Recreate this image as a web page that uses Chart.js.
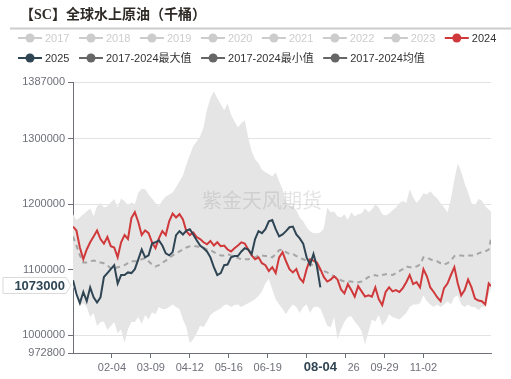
<!DOCTYPE html>
<html><head><meta charset="utf-8">
<script src="https://cdn.jsdelivr.net/npm/chart.js@4/dist/chart.umd.min.js"></script>
<style>html,body{margin:0;padding:0;background:#fff;}canvas{display:block;}</style>
</head><body>
<canvas id="c" width="511" height="379"></canvas>
<script>
// ---- DATA ----
// sample days (day-of-year index, leap-year calendar, every 3rd day + last day)
const sampleDays = Array.from({length: 122}, (_, k) => 3 * k).concat([365]);
const xTickLabels = ['02-04','03-09','04-12','05-16','06-19','07-23','08-26','09-29','11-02'];
const yTicks = [972800, 1000000, 1100000, 1200000, 1300000, 1387000];
const legendNames = ['2017','2018','2019','2020','2021','2022','2023','2024','2025','2017-2024最大值','2017-2024最小值','2017-2024均值'];
const legendColors = ['#cccccc','#cccccc','#cccccc','#cccccc','#cccccc','#cccccc','#cccccc','#d0393b','#2f4554','#666666','#666666','#666666'];
const legendActive = [false,false,false,false,false,false,false,true,true,true,true,true];

const max1724 = [
 1185000,1176000,1180000,1185000,1189000,1194000,1182000,1197000,1202000,1195000,
 1197000,1203000,1208000,1195000,1209000,1205000,1198000,1203000,1200000,1218000,
 1224000,1223000,1215000,1209000,1202000,1197000,1206000,1212000,1215000,1218000,
 1226000,1235000,1244000,1261000,1275000,1289000,1296000,1304000,1318000,1345000,
 1362000,1373000,1362000,1353000,1344000,1354000,1337000,1327000,1318000,1324000,
 1328000,1302000,1281000,1269000,1263000,1253000,1249000,1246000,1243000,1249000,
 1235000,1223000,1203000,1197000,1198000,1191000,1180000,1174000,1165000,1159000,
 1156000,1156000,1157000,1163000,1195000,1188000,1189000,1182000,1180000,1185000,
 1176000,1188000,1182000,1185000,1186000,1194000,1188000,1192000,1200000,1195000,
 1185000,1183000,1186000,1191000,1195000,1202000,1205000,1202000,1223000,1211000,
 1202000,1208000,1217000,1215000,1220000,1214000,1209000,1202000,1195000,1188000,
 1208000,1238000,1263000,1250000,1232000,1218000,1202000,1198000,1208000,1206000,
 1197000,1192000,1189000];
const min1724 = [
 1073000,1066000,1046000,1049000,1043000,1028000,1034000,1014000,1020000,1021000,
 1008000,1014000,1020000,1003000,1009000,988000,1009000,1020000,1020000,1028000,
 1017000,1031000,1024000,1035000,1032000,1043000,1040000,1040000,1043000,1047000,
 1043000,1040000,1024000,1012000,988000,994000,1003000,1015000,1012000,1021000,
 1031000,1035000,1038000,1041000,1046000,1047000,1043000,1046000,1047000,1043000,
 1046000,1049000,1052000,1055000,1060000,1067000,1079000,1086000,1070000,1055000,
 1047000,1040000,1032000,1041000,1047000,1043000,1034000,1043000,1047000,1034000,
 1043000,1044000,1041000,1028000,1015000,1012000,1028000,994000,1009000,1020000,
 1028000,1029000,1021000,1015000,1006000,986000,1005000,1024000,1021000,1031000,
 1015000,1021000,1032000,1028000,1026000,1024000,1029000,1034000,1043000,1047000,
 1047000,1049000,1061000,1052000,1047000,1043000,1047000,1043000,1047000,1052000,
 1047000,1058000,1061000,1047000,1043000,1047000,1043000,1043000,1038000,1043000,
 1043000,1061000,1072000];
const avg1724 = [
 1151000,1137000,1122000,1111000,1111000,1113000,1114000,1113000,1111000,1110000,
 1107000,1102000,1101000,1104000,1105000,1107000,1110000,1113000,1113000,1114000,
 1116000,1118000,1113000,1108000,1105000,1107000,1111000,1114000,1118000,1122000,
 1125000,1128000,1131000,1134000,1136000,1136000,1136000,1134000,1134000,1131000,
 1130000,1127000,1124000,1122000,1122000,1124000,1122000,1121000,1118000,1116000,
 1116000,1116000,1118000,1119000,1122000,1122000,1121000,1121000,1119000,1124000,
 1130000,1131000,1127000,1124000,1124000,1121000,1118000,1116000,1114000,1108000,
 1107000,1104000,1099000,1098000,1096000,1093000,1090000,1087000,1084000,1082000,
 1082000,1082000,1081000,1081000,1082000,1085000,1089000,1090000,1092000,1090000,
 1092000,1093000,1093000,1092000,1095000,1098000,1101000,1105000,1104000,1104000,
 1105000,1108000,1119000,1119000,1116000,1114000,1113000,1110000,1108000,1110000,
 1114000,1121000,1122000,1122000,1121000,1122000,1122000,1122000,1125000,1127000,
 1128000,1131000,1147000];
const y2024 = [
 1166000,1160000,1134000,1116000,1131000,1142000,1151000,1160000,1147000,1140000,
 1150000,1136000,1134000,1119000,1142000,1153000,1147000,1179000,1188000,1173000,
 1153000,1160000,1156000,1142000,1133000,1148000,1159000,1153000,1174000,1186000,
 1180000,1185000,1177000,1159000,1153000,1157000,1150000,1147000,1142000,1139000,
 1144000,1137000,1142000,1136000,1137000,1131000,1128000,1133000,1137000,1142000,
 1140000,1131000,1122000,1116000,1119000,1110000,1107000,1098000,1104000,1095000,
 1119000,1127000,1113000,1101000,1096000,1101000,1087000,1081000,1101000,1116000,
 1114000,1111000,1101000,1089000,1082000,1085000,1090000,1085000,1070000,1064000,
 1078000,1069000,1059000,1075000,1067000,1059000,1061000,1059000,1073000,1055000,
 1046000,1066000,1073000,1067000,1069000,1066000,1072000,1081000,1092000,1078000,
 1081000,1073000,1101000,1090000,1073000,1066000,1058000,1052000,1072000,1079000,
 1092000,1104000,1079000,1061000,1069000,1085000,1073000,1056000,1053000,1052000,
 1047000,1079000,1075000];
const y2025 = [
 1084000,1063000,1049000,1066000,1052000,1073000,1058000,1050000,1058000,1089000,
 1095000,1101000,1107000,1079000,1092000,1092000,1096000,1095000,1101000,1116000,
 1131000,1119000,1122000,1140000,1142000,1145000,1137000,1125000,1122000,1127000,
 1153000,1159000,1154000,1160000,1162000,1154000,1145000,1137000,1133000,1128000,
 1119000,1104000,1092000,1095000,1107000,1108000,1119000,1121000,1121000,1128000,
 1133000,1131000,1124000,1147000,1159000,1156000,1162000,1174000,1176000,1162000,
 1151000,1154000,1159000,1165000,1166000,1154000,1148000,1140000,1119000,1108000,
 1124000,1105000,1073000];

// ---- helpers ----
const monthLens = [31,29,31,30,31,30,31,31,30,31,30,31];
function dayLabel(d) {
  let m = 0; d = Math.round(d);
  while (m < 11 && d >= monthLens[m]) { d -= monthLens[m]; m++; }
  return String(m + 1).padStart(2, '0') + '-' + String(d + 1).padStart(2, '0');
}
function labelDay(lbl) {
  const [m, d] = lbl.split('-').map(Number);
  let s = 0; for (let i = 0; i < m - 1; i++) s += monthLens[i];
  return s + d - 1;
}
const xTickDays = xTickLabels.map(labelDay);
const toPts = vals => vals.map((v, i) => ({x: sampleDays[i], y: v}));
const lastIdx2025 = y2025.length - 1;
const pointerDay = sampleDays[lastIdx2025];
const pointerVal = y2025[lastIdx2025];

const FONT = '"Liberation Sans", "Noto Sans CJK SC", sans-serif';
const CJK = '"Noto Sans CJK SC", "Liberation Sans", sans-serif';
const TITLEFONT = '"Liberation Serif", "Noto Sans CJK SC", serif';
Chart.defaults.font.family = FONT;
Chart.defaults.font.size = 11;
Chart.defaults.color = '#6E7079';

const decor = {
  id: 'decor',
  beforeDatasetsDraw(chart) {
    const ctx = chart.ctx;
    ctx.save();
    ctx.font = '20px ' + CJK;
    ctx.fillStyle = 'rgba(120,120,120,0.2)';
    ctx.textAlign = 'center';
    ctx.textBaseline = 'middle';
    ctx.fillText('紫金天风期货', 262, 200);
    ctx.restore();
  },
  afterDraw(chart) {
    const ctx = chart.ctx;
    ctx.save();
    // title
    ctx.font = 'bold 14px ' + TITLEFONT;
    ctx.fillStyle = '#2e2a26';
    ctx.textAlign = 'left';
    ctx.textBaseline = 'middle';
    ctx.fillText('【SC】全球水上原油（千桶）', 20, 15);
    ctx.strokeStyle = '#cccccc';
    ctx.lineWidth = 2;
    ctx.beginPath(); ctx.moveTo(10, 28.5); ctx.lineTo(511, 28.5); ctx.stroke();
    // legend
    ctx.font = '11px ' + FONT;
    let x = 18, y = 38;
    legendNames.forEach((name, i) => {
      const tw = ctx.measureText(name).width;
      const w = 27 + tw;
      if (x + w > 505) { x = 18; y += 20; }
      const c = legendColors[i];
      ctx.strokeStyle = c; ctx.lineWidth = 2;
      ctx.beginPath(); ctx.moveTo(x, y); ctx.lineTo(x + 24, y); ctx.stroke();
      ctx.fillStyle = c;
      ctx.beginPath(); ctx.arc(x + 12, y, 4.5, 0, Math.PI * 2); ctx.fill();
      ctx.fillStyle = legendActive[i] ? '#333' : '#cccccc';
      ctx.fillText(name, x + 27, y + 0.5);
      x += w + 9.5;
    });
    // x axis pointer label
    const xs = chart.scales.x, ys = chart.scales.y;
    const px = xs.getPixelForValue(pointerDay);
    ctx.fillStyle = '#fff';
    ctx.fillRect(px - 28, 358, 56, 20);
    ctx.font = 'bold 13px ' + FONT;
    ctx.fillStyle = '#2f4554';
    ctx.textAlign = 'center';
    ctx.fillText(dayLabel(pointerDay), px, 367);
    // y axis pointer label
    const py = ys.getPixelForValue(pointerVal) - 2;
    ctx.beginPath();
    ctx.moveTo(3, py - 8); ctx.lineTo(66, py - 8); ctx.lineTo(71, py);
    ctx.lineTo(66, py + 8); ctx.lineTo(3, py + 8); ctx.closePath();
    ctx.fillStyle = '#fff'; ctx.fill();
    ctx.strokeStyle = '#d9d9d9'; ctx.lineWidth = 1; ctx.stroke();
    ctx.fillStyle = '#2f4554';
    ctx.textAlign = 'right';
    ctx.fillText(String(pointerVal), 65, py + 0.5);
    ctx.restore();
  }
};

new Chart(document.getElementById('c'), {
  type: 'line',
  data: {
    datasets: [
      {label: '2025', data: toPts(y2025), borderColor: '#2f4554', borderWidth: 2, pointRadius: 0, fill: false, order: 0},
      {label: '2024', data: toPts(y2024), borderColor: '#d0393b', borderWidth: 2, pointRadius: 0, fill: false, order: 1},
      {label: '2017-2024均值', data: toPts(avg1724), borderColor: '#a6a6a6', borderWidth: 2, borderDash: [5, 4], pointRadius: 0, fill: false, order: 2},
      {label: '2017-2024最大值', data: toPts(max1724), borderColor: 'rgba(0,0,0,0)', borderWidth: 0, backgroundColor: '#e5e5e5', pointRadius: 0, fill: '+1', order: 3},
      {label: '2017-2024最小值', data: toPts(min1724), borderColor: 'rgba(0,0,0,0)', borderWidth: 0, pointRadius: 0, fill: false, order: 4}
    ]
  },
  options: {
    responsive: false,
    animation: false,
    events: [],
    devicePixelRatio: 1,
    layout: {padding: {left: 0, right: 20, top: 82, bottom: 0}},
    plugins: {legend: {display: false}, title: {display: false}, tooltip: {enabled: false},
      filler: {drawTime: 'beforeDatasetsDraw'}},
    elements: {line: {tension: 0}},
    scales: {
      x: {
        type: 'linear', min: 0, max: 365,
        afterBuildTicks: s => { s.ticks = xTickDays.map(v => ({value: v})); },
        afterFit: s => { s.height = 26; },
        grid: {drawOnChartArea: false, tickLength: 5, tickColor: '#6E7079'},
        border: {color: '#6E7079'},
        ticks: {autoSkip: false, maxRotation: 0, padding: 3, callback: v => dayLabel(v)}
      },
      y: {
        min: 972800, max: 1387000,
        afterBuildTicks: s => { s.ticks = yTicks.map(v => ({value: v})); },
        afterFit: s => { s.width = 73; },
        grid: {color: '#e3e3e3', tickLength: 5, tickColor: '#6E7079'},
        border: {color: '#6E7079'},
        ticks: {padding: 3, callback: v => String(v)}
      }
    }
  },
  plugins: [decor]
});
</script>
</body></html>
